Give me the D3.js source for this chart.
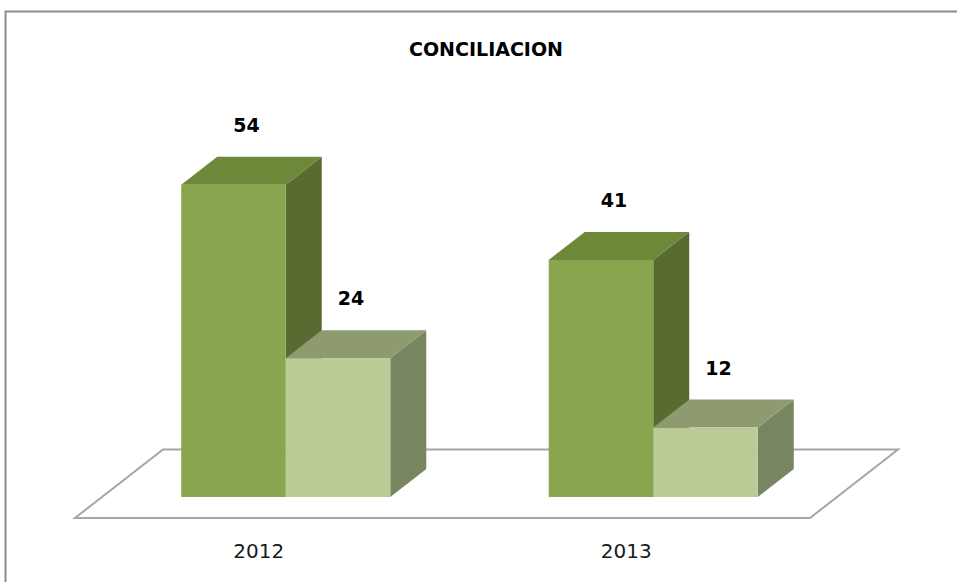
<!DOCTYPE html>
<html>
<head>
<meta charset="utf-8">
<script src="https://cdn.jsdelivr.net/npm/d3@7"></script>
<style>
  body { margin: 0; background: #fff; }
  svg { display: block; }
</style>
</head>
<body>
<svg id="chart"></svg>
<script>
// chart data
const title = 'CONCILIACION';
const categories = ['2012', '2013'];
const seriesNames = ['serie1', 'serie2'];
const serie1 = [54, 41];
const serie2 = [24, 12];

const width = 957, height = 582;
const front = { top: '#89a54e', topFace: '#6c8838', side: '#586b30' };
const back = { top: '#bacb95', topFace: '#8d9b6f', side: '#778560' };
const palette = [front, back];

const svg = d3.select('#chart')
    .attr('width', width)
    .attr('height', height);

// chart frame
svg.append('rect')
    .attr('x', 5.5).attr('y', 11.5)
    .attr('width', 1000).attr('height', 1000)
    .attr('fill', '#fff')
    .attr('stroke', '#8c8c8c')
    .attr('stroke-width', 2);

svg.append('text')
    .attr('x', 486).attr('y', 56)
    .attr('text-anchor', 'middle')
    .attr('font-family', 'DejaVu Sans')
    .attr('font-weight', 'bold')
    .attr('font-size', 19)
    .attr('fill', '#000')
    .text(title);

// scales (front plane of the bars)
const xscale = d3.scaleBand()
    .domain(categories)
    .range([102, 837]);

const xinner = d3.scaleBand()
    .domain(seriesNames)
    .range([0, xscale.bandwidth()])
    .paddingInner(0)
    .paddingOuter(0.758);

const yscale = d3.scaleLinear()
    .domain([0, 60])
    .range([497, 150]);

// oblique depth
const ky = 0.778;
const zscale = d3.scaleLinear().domain([0, 1]).range([-27, 61]);
const barDepth = 36;
const pt = (x, y, z) => [x + z, y - z * ky];

// floor
const y0 = yscale(0);
const fx0 = xscale.range()[0], fx1 = xscale.range()[1];
const floor = [
    pt(fx0, y0, zscale(0)), pt(fx1, y0, zscale(0)),
    pt(fx1, y0, zscale(1)), pt(fx0, y0, zscale(1))
];
svg.append('path')
    .attr('d', d3.line()(floor) + 'Z')
    .attr('fill', '#fff')
    .attr('stroke', '#a6a6a6')
    .attr('stroke-width', 2);

const data = [];
categories.forEach((c, i) => {
    [serie1[i], serie2[i]].forEach((v, j) => {
        data.push({ cat: c, s: seriesNames[j], value: v, color: palette[j] });
    });
});

const bars = svg.append('g');
data.forEach(d => {
    const xl = xscale(d.cat) + xinner(d.s);
    const xr = xl + xinner.bandwidth();
    const yt = yscale(d.value);
    const g = bars.append('g');
    g.append('path')
        .attr('d', d3.line()([pt(xr, yt, 0), pt(xr, yt, barDepth), pt(xr, y0, barDepth), pt(xr, y0, 0)]) + 'Z')
        .attr('fill', d.color.side);
    g.append('path')
        .attr('d', d3.line()([pt(xl, yt, 0), pt(xr, yt, 0), pt(xr, yt, barDepth), pt(xl, yt, barDepth)]) + 'Z')
        .attr('fill', d.color.topFace);
    g.append('rect')
        .attr('x', xl).attr('y', yt)
        .attr('width', xr - xl).attr('height', y0 - yt)
        .attr('fill', d.color.top);
});

// value labels
svg.append('g').selectAll('text')
    .data(data)
    .join('text')
    .attr('x', d => xscale(d.cat) + xinner(d.s) + xinner.bandwidth() / 2 + 13)
    .attr('y', d => yscale(d.value) - barDepth * ky - 25)
    .attr('text-anchor', 'middle')
    .attr('font-family', 'DejaVu Sans')
    .attr('font-weight', 'bold')
    .attr('font-size', 19)
    .attr('fill', '#000')
    .text(d => d.value);

// category labels
svg.append('g').selectAll('text')
    .data(categories)
    .join('text')
    .attr('x', d => pt(xscale(d) + xscale.bandwidth() / 2, y0, zscale(0))[0])
    .attr('y', 558)
    .attr('text-anchor', 'middle')
    .attr('font-family', 'DejaVu Sans')
    .attr('font-size', 20)
    .attr('fill', '#1a1a1a')
    .text(d => d);
</script>
</body>
</html>
